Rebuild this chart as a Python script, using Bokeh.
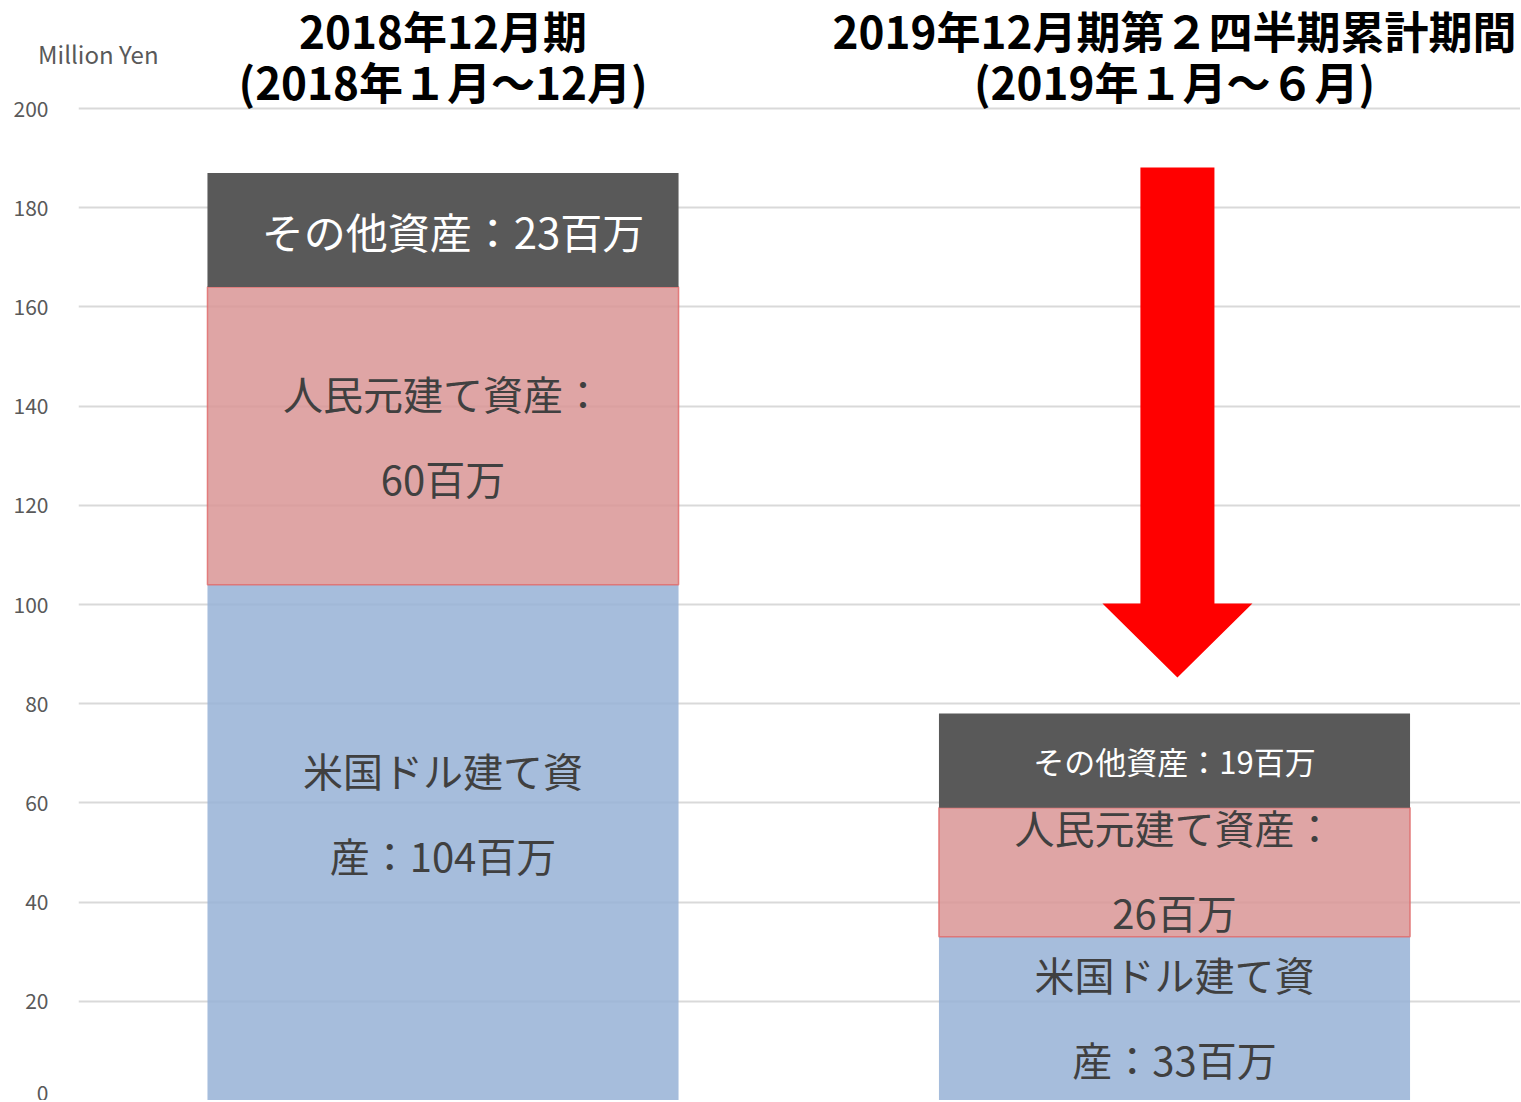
from bokeh.plotting import figure
from bokeh.models import Range1d, FixedTicker, ColumnDataSource
from bokeh.core.properties import value
from bokeh.embed import file_html
from bokeh.resources import INLINE

# ---- data ----
periods = ["2018年12月期\n(2018年１月～12月)", "2019年12月期第２四半期累計期間\n(2019年１月～６月)"]
usd_assets = [104, 33]
rmb_assets = [60, 26]
other_assets = [23, 19]
usd_labels = ["米国ドル建て資\n産：104百万", "米国ドル建て資\n産：33百万"]
rmb_labels = ["人民元建て資産：\n60百万", "人民元建て資産：\n26百万"]
other_labels = ["その他資産：23百万", "その他資産：19百万"]
y_ticks = [0, 20, 40, 60, 80, 100, 120, 140, 160, 180, 200]
unit_label = "Million Yen"

FONT = "Noto Sans CJK JP"
xs = list(range(len(periods)))
W, H = 1520, 1100
px_per_unit = (1100 - 108) / 200.0

p = figure(width=W, height=H, output_backend="svg", toolbar_location=None,
           x_range=Range1d(-0.4983, 1.473), y_range=Range1d(0, 200 + 108 / px_per_unit),
           min_border_left=78, min_border_right=0, min_border_top=0, min_border_bottom=0)
p.outline_line_color = None
p.background_fill_color = "white"
p.border_fill_color = "white"
p.xaxis.visible = False
p.xgrid.visible = False
p.ygrid.ticker = FixedTicker(ticks=y_ticks)
p.ygrid.grid_line_color = "#d9d9d9"
p.ygrid.grid_line_width = 2

ax = p.yaxis[0]
ax.ticker = FixedTicker(ticks=y_ticks)
ax.axis_line_color = None
ax.major_tick_line_color = None
ax.minor_tick_line_color = None
ax.major_tick_out = 0
ax.major_tick_in = 0
ax.major_label_standoff = 30
ax.major_label_text_font = FONT
ax.major_label_text_font_size = "21px"
ax.major_label_text_color = "#595959"
# unit label sits at the top end of the value axis
ax.axis_label = "\n\n" + unit_label
ax.axis_label_orientation = "horizontal"
ax.axis_label_align = "end"
ax.axis_label_standoff = -148
ax.axis_label_text_font = FONT
ax.axis_label_text_font_size = "24px"
ax.axis_label_text_font_style = "normal"
ax.axis_label_text_color = "#595959"
ax.axis_label_text_baseline = "top"
ax.axis_label_text_line_height = 1.5

usd_top = usd_assets
rmb_top = [u + r for u, r in zip(usd_assets, rmb_assets)]
tot = [t + o for t, o in zip(rmb_top, other_assets)]

bw = 0.644
p.vbar(x=xs, bottom=0, top=usd_top, width=bw, fill_color="#96B2D6", fill_alpha=0.85, line_color=None)
p.vbar(x=xs, bottom=usd_top, top=rmb_top, width=bw, fill_color="#D99595", fill_alpha=0.85,
       line_color="#E06666", line_width=1.5, line_alpha=0.8)
p.vbar(x=xs, bottom=rmb_top, top=tot, width=bw, fill_color="#595959", fill_alpha=1.0, line_color=None)

# labels
usd_src = ColumnDataSource(dict(x=xs, y=[u / 2 for u in usd_top], t=usd_labels, dy=[-30, -2]))
p.text(x="x", y="y", text="t", y_offset="dy", source=usd_src, text_font=value(FONT), text_font_size="40px",
       text_color="#404040", text_align="center", text_baseline="middle", text_line_height=1.465)
rmb_src = ColumnDataSource(dict(x=xs, y=[(a + b) / 2 for a, b in zip(usd_top, rmb_top)], t=rmb_labels,
                                dy=[0, -3]))
p.text(x="x", y="y", text="t", y_offset="dy", source=rmb_src, text_font=value(FONT), text_font_size="40px",
       text_color="#404040", text_align="center", text_baseline="middle", text_line_height=1.465)
oth_src = ColumnDataSource(dict(x=xs, y=[(a + b) / 2 for a, b in zip(rmb_top, tot)], t=other_labels,
                                fs=["42px", "31px"], dx=[10, 0]))
p.text(x="x", y="y", text="t", x_offset="dx", source=oth_src, text_font=value(FONT), text_font_size="fs",
       text_color="white", text_align="center", text_baseline="middle")

# period titles
title_src = ColumnDataSource(dict(x=xs, y=[210.6, 210.6], t=periods))
p.text(x="x", y="y", text="t", source=title_src, text_font=value(FONT), text_font_size="44px",
       text_font_style="bold", text_color="black", text_align="center", text_baseline="middle",
       text_line_height=0.795)

# red arrow (decoration) from first total towards second total
ax_c = 1.004
shaft = 0.0506
head = 0.1025
top_y = tot[0] + 1.1
tip_y = tot[1] + 7.3
base_y = tip_y + 14.9
p.patch(x=[ax_c - shaft, ax_c + shaft, ax_c + shaft, ax_c + head, ax_c, ax_c - head, ax_c - shaft],
        y=[top_y, top_y, base_y, base_y, tip_y, base_y, base_y],
        fill_color="#FF0000", line_color=None)

open("out.html", "w").write(file_html(p, INLINE))
